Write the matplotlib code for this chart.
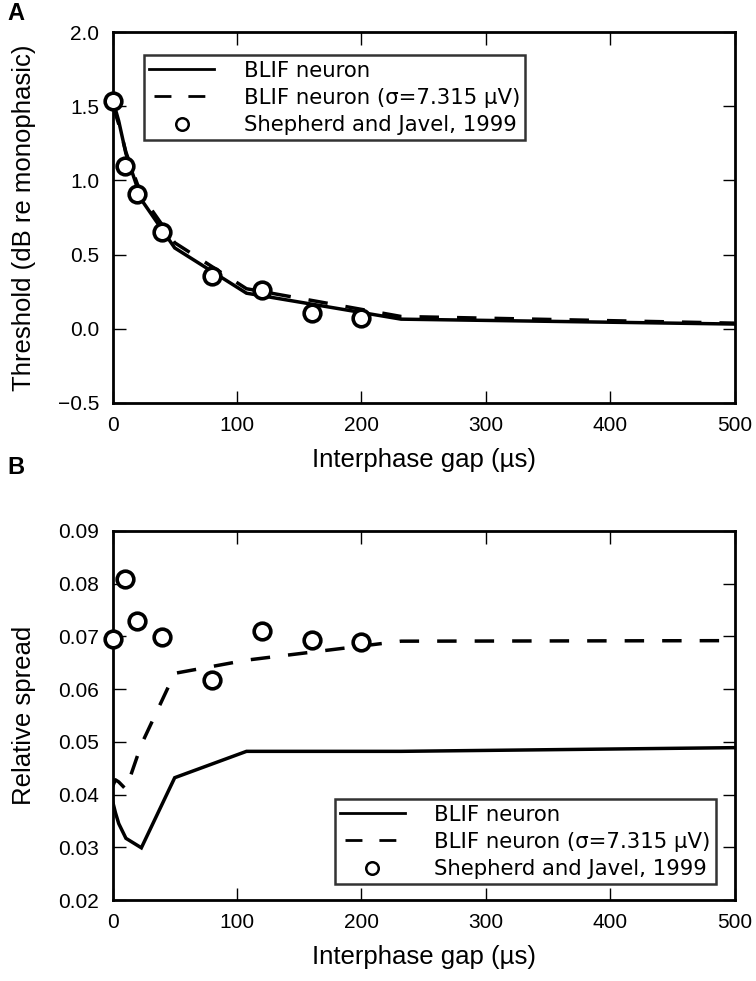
import matplotlib
matplotlib.use("Agg")
import matplotlib.pyplot as plt

# ---------------- data ----------------
gap_model = [0, 2.32, 5, 10.8, 23.2, 50, 107.7, 232, 500]

thr_blif = [1.53, 1.48, 1.40, 1.18, 0.87, 0.545, 0.24, 0.065, 0.032]
thr_blif_noise = [1.50, 1.45, 1.38, 1.19, 0.90, 0.58, 0.27, 0.083, 0.038]

gap_data = [0, 10, 20, 40, 80, 120, 160, 200]
thr_data = [1.535, 1.095, 0.905, 0.655, 0.353, 0.263, 0.105, 0.072]

spread_blif = [0.0388, 0.0366, 0.0345, 0.0317, 0.0299, 0.0432, 0.0482, 0.0482, 0.0489]
spread_blif_noise = [0.0415, 0.0428, 0.0424, 0.0410, 0.0495, 0.0630, 0.0655, 0.0691, 0.0692]
spread_data = [0.0695, 0.0809, 0.0730, 0.0698, 0.0617, 0.0711, 0.0693, 0.0690]

labels = ["BLIF neuron", "BLIF neuron (σ=7.315 µV)", "Shepherd and Javel, 1999"]
xticks = [0, 100, 200, 300, 400, 500]
yticksA = [-0.5, 0.0, 0.5, 1.0, 1.5, 2.0]
yticksB = [0.02, 0.03, 0.04, 0.05, 0.06, 0.07, 0.08, 0.09]

# ---------------- style ----------------
TICKFONT = "Liberation Sans"
LEGFONT = "DejaVu Sans"
LW = 2.5
DASH = (5.6, 5.2)

fig = plt.figure(figsize=(7.56, 9.81), dpi=100)
W, H = 756, 981


def ax_rect(l, r, t, b):
    return [l / W, 1 - b / H, (r - l) / W, (b - t) / H]


axA = fig.add_axes(ax_rect(112.5, 734.5, 32, 403))
axB = fig.add_axes(ax_rect(112.5, 734.5, 531, 900))


def style(ax):
    for s in ax.spines.values():
        s.set_linewidth(2.0)
    ax.tick_params(direction="in", length=9, width=1.0, top=True, right=True,
                   labelsize=15, pad=9.5)
    for lab in ax.get_xticklabels() + ax.get_yticklabels():
        lab.set_fontfamily(TICKFONT)
    ax.set_xlabel("Interphase gap (µs)", fontsize=18.5, family=TICKFONT,
                  labelpad=9)


def draw(ax, y_blif, y_noise, y_data):
    ax.plot(gap_model, y_blif, color="black", lw=LW, solid_joinstyle="miter",
            label=labels[0])
    ax.plot(gap_model, y_noise, color="black", lw=LW, dashes=DASH,
            label=labels[1])
    ax.plot(gap_data, y_data, linestyle="none", marker="o", ms=12,
            mfc="white", mec="black", mew=2.6, label=labels[2], clip_on=False,
            zorder=5)


def legend(ax, loc, anchor):
    leg = ax.legend(loc=loc, bbox_to_anchor=anchor, numpoints=1,
                    prop={"family": LEGFONT, "size": 15.3}, frameon=True,
                    fancybox=False, handlelength=3.05, handletextpad=1.4,
                    borderpad=0.25, labelspacing=0.34, borderaxespad=0)
    fr = leg.get_frame()
    fr.set_edgecolor("black")
    fr.set_linewidth(1.8)
    hs = leg.legend_handles
    hs[0].set_linewidth(2.0)
    hs[1].set_linewidth(2.0)
    hs[1].set_linestyle((10.4, (6.1, 6.1)))
    hs[2].set_markersize(9)
    hs[2].set_markeredgewidth(1.8)
    return leg


# Panel A
draw(axA, thr_blif, thr_blif_noise, thr_data)
axA.set_xlim(0, 500)
axA.set_ylim(-0.5, 2.0)
axA.set_xticks(xticks)
axA.set_yticks(yticksA)
style(axA)
axA.set_ylabel("Threshold (dB re monophasic)", fontsize=18.5, family=TICKFONT,
               labelpad=16)
legend(axA, "upper left", (0.0505, 0.937))

# Panel B
draw(axB, spread_blif, spread_blif_noise, spread_data)
axB.set_xlim(0, 500)
axB.set_ylim(0.02, 0.09)
axB.set_xticks(xticks)
axB.set_yticks(yticksB)
style(axB)
axB.set_ylabel("Relative spread", fontsize=18.5, family=TICKFONT, labelpad=16)
legend(axB, "lower right", (0.9705, 0.0425))

fig.text(7 / W, 1 - 14 / H, "A", fontsize=17, fontweight="bold",
         family=TICKFONT, va="center", ha="left")
fig.text(7 / W, 1 - 467 / H, "B", fontsize=17, fontweight="bold",
         family=TICKFONT, va="center", ha="left")

fig.savefig("out.png", dpi=100)
